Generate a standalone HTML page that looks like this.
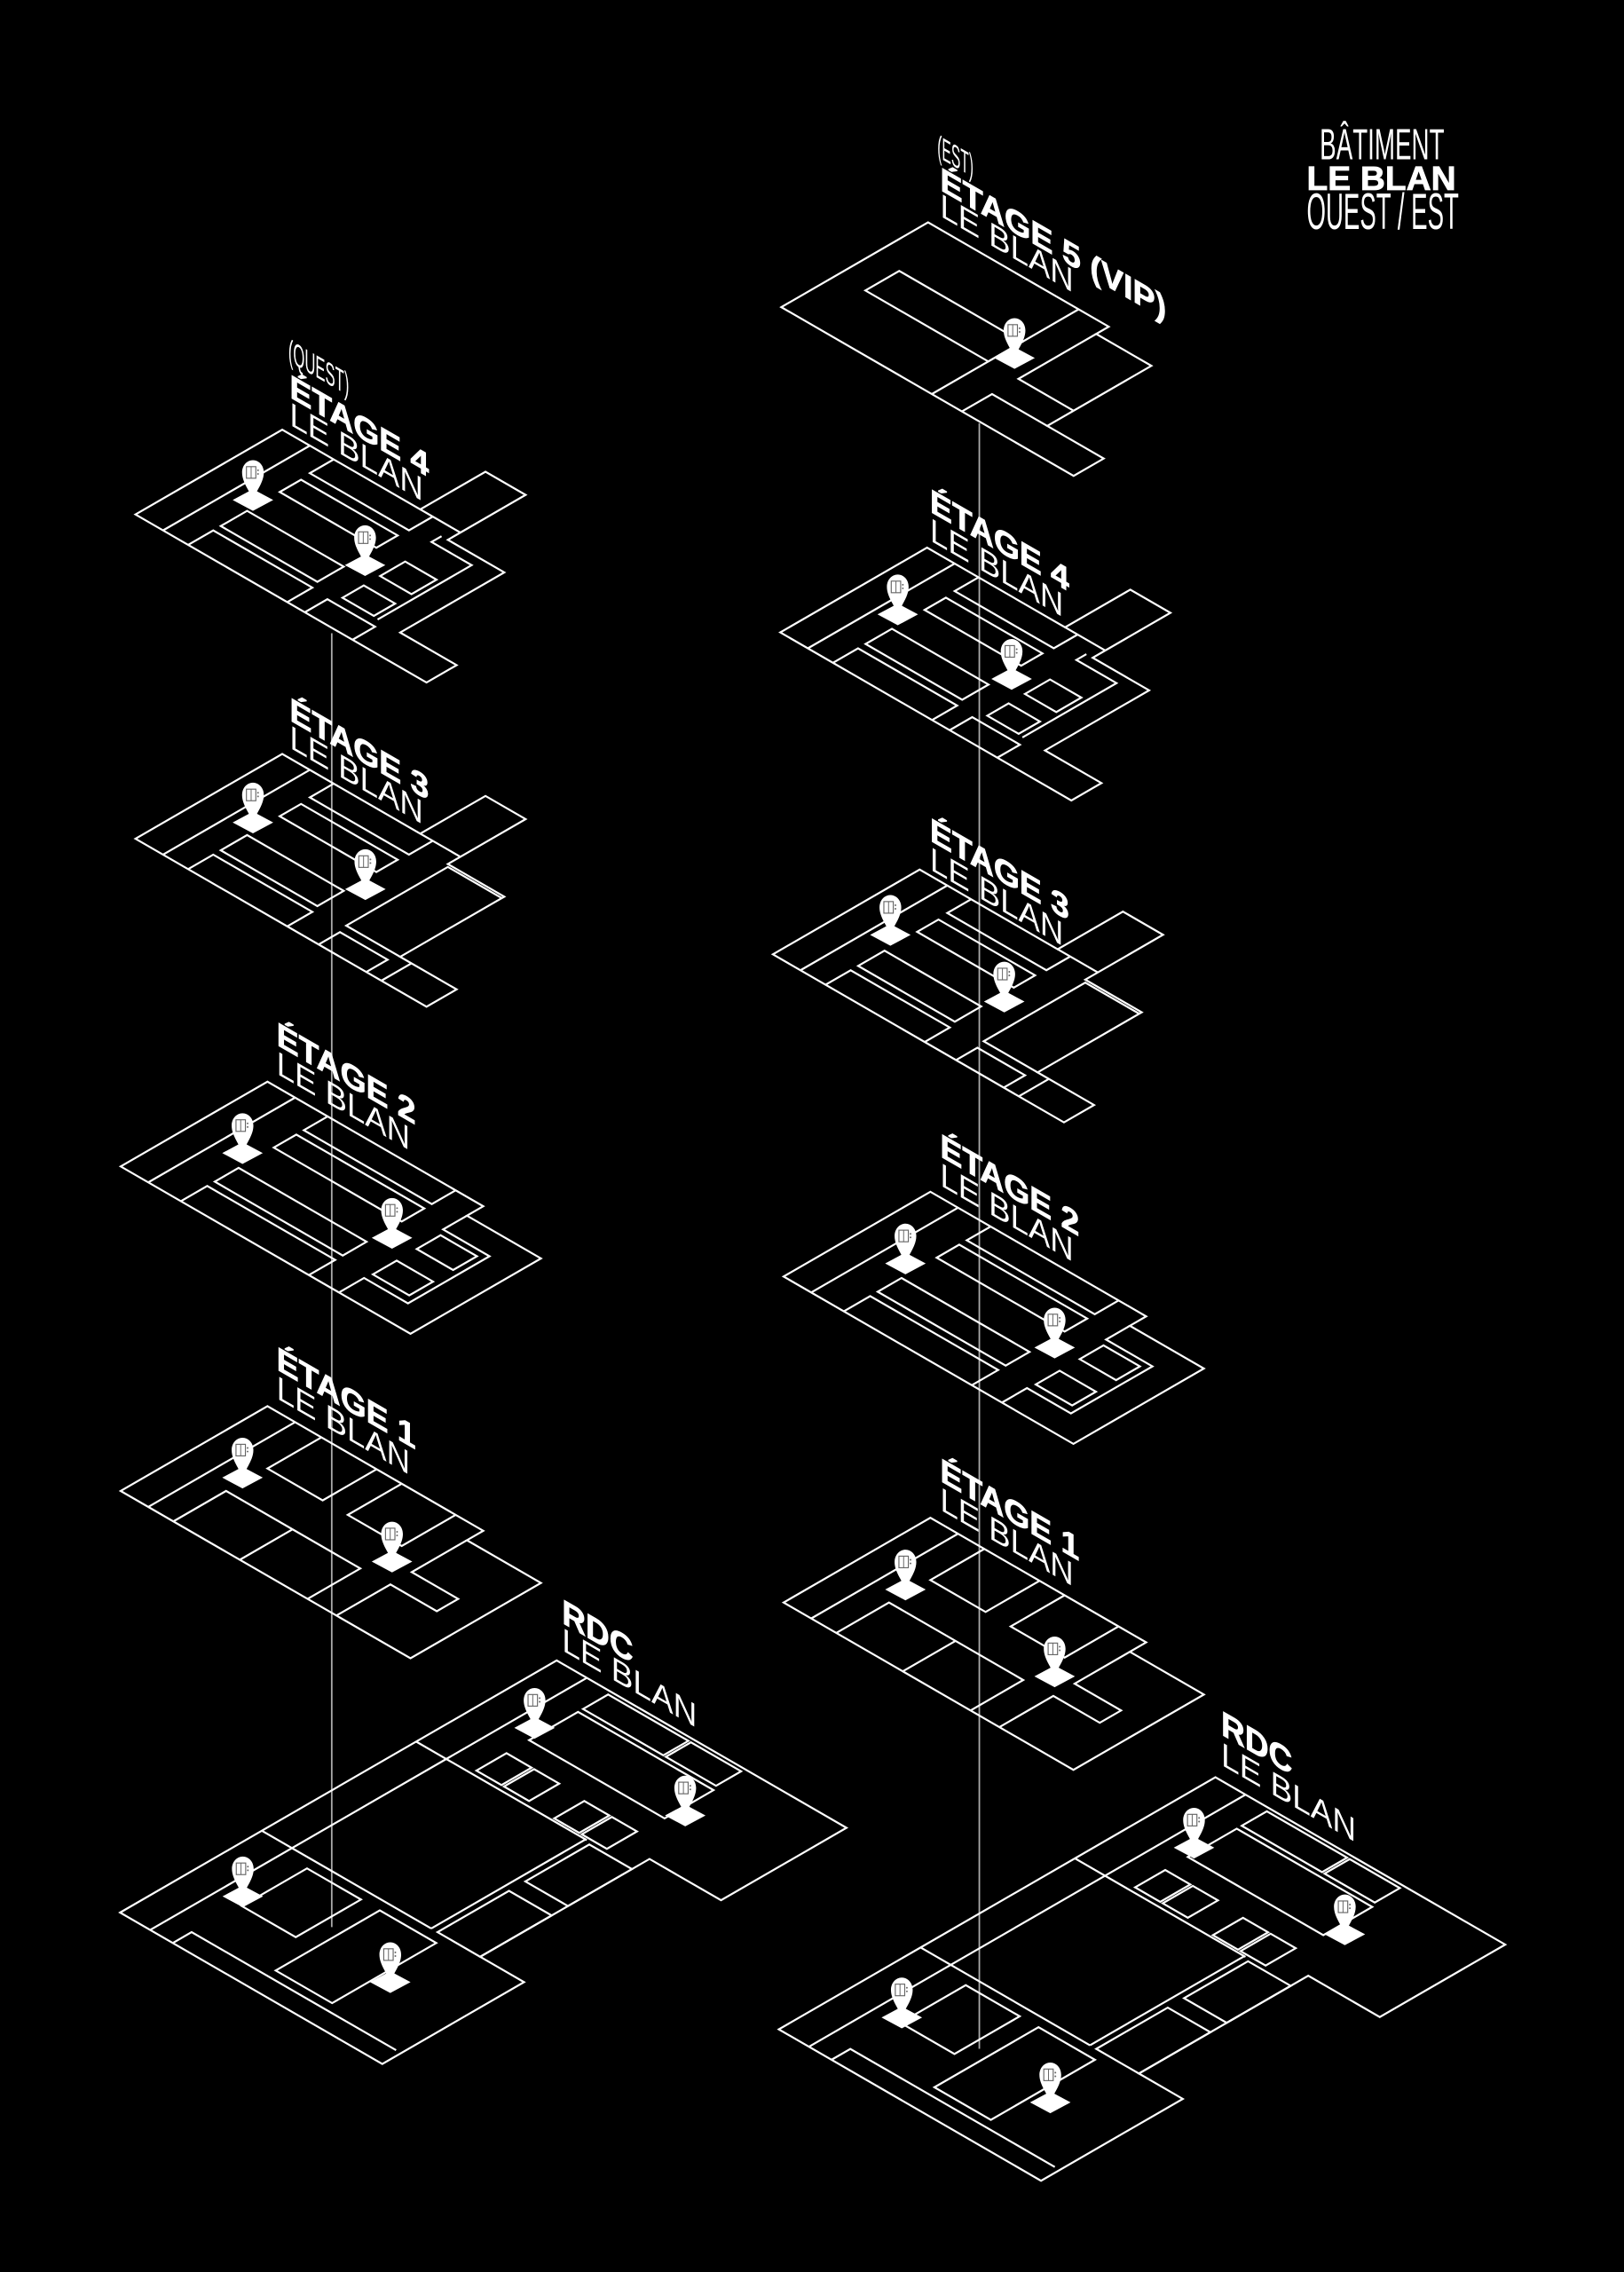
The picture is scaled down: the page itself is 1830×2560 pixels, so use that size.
<!DOCTYPE html>
<html><head><meta charset="utf-8"><style>
html,body{margin:0;padding:0;background:#000;}
svg{display:block;}
.fl polygon,.fl polyline{fill:none;stroke:#fff;stroke-width:2.2;vector-effect:non-scaling-stroke;stroke-linejoin:miter;}
text{fill:#fff;font-family:"Liberation Sans",sans-serif;}
.b{font-weight:900;stroke:#fff;stroke-width:0.5;}
</style></head><body>
<svg width="1830" height="2560" viewBox="0 0 1121 1568" xmlns="http://www.w3.org/2000/svg">
<rect width="1121" height="1568" fill="#000"/>
<defs>
<g id="f4" class="fl" transform="matrix(0.866 0.5 0.866 -0.5 0 0)">
 <polygon points="0,0 0,117 110,117 110,169 142,169 142,107 187,107 187,24 232,24 232,0"/>
 <polyline points="22,0 22,117"/>
 <polyline points="110,117 142,117"/>
 <polyline points="42,0 42,20 121,20 121,0"/>
 <polygon points="42,26 42,47 119,47 119,26"/>
 <polygon points="42,73 42,90 119,90 119,73"/>
 <polyline points="41,117 41,98 120,98 120,117"/>
 <polygon points="140,55 140,75 165,75 165,55"/>
 <polygon points="140,25 140,42 165,42 165,25"/>
 <polyline points="135,0 135,18 173,18 173,0"/>
 <polyline points="137,107 137,99 169,99 169,24"/>
</g>
<g id="f3" class="fl" transform="matrix(0.866 0.5 0.866 -0.5 0 0)">
 <polygon points="0,0 0,117 110,117 110,169 142,169 142,107 187,107 187,24 232,24 232,0"/>
 <polyline points="22,0 22,117"/>
 <polyline points="110,117 142,117"/>
 <polyline points="42,0 42,20 121,20 121,0"/>
 <polygon points="42,26 42,47 119,47 119,26"/>
 <polygon points="42,73 42,90 119,90 119,73"/>
 <polyline points="41,117 41,98 120,98 120,117"/>
 <polyline points="187,105 144,105 144,24 187,24"/>
 <polyline points="146,0 146,17 184,17 184,0"/>
 <polyline points="196,0 196,24"/>
</g>
<g id="f2" class="fl" transform="matrix(0.866 0.5 0.866 -0.5 0 0)">
 <polygon points="0,0 0,117 172,117 172,104 231,104 231,0"/>
 <polyline points="22,0 22,117"/>
 <polyline points="48,0 48,21 150,21 150,0"/>
 <polygon points="48,27 48,46 150,46 150,27"/>
 <polygon points="48,74 48,92 150,92 150,74"/>
 <polyline points="48,117 48,98 150,98 150,117"/>
 <polyline points="172,104 172,85 209,85 209,20 174,20 174,0"/>
 <polygon points="175,61 175,80 204,80 204,61"/>
 <polygon points="175,26 175,45 204,45 204,26"/>
</g>
<g id="f1" class="fl" transform="matrix(0.866 0.5 0.866 -0.5 0 0)">
 <polygon points="0,0 0,117 172,117 172,104 231,104 231,0"/>
 <polyline points="22,0 22,117"/>
 <polyline points="42,0 42,42 149,42 149,0"/>
 <polyline points="95,0 95,42"/>
 <polyline points="43,117 43,74 87,74 87,117"/>
 <polyline points="107,117 107,74 150,74 150,117"/>
 <polyline points="172,0 172,43 209,43 209,60 172,60 172,104"/>
</g>
<g id="f5" class="fl" transform="matrix(0.866 0.5 0.866 -0.5 0 0)">
 <polygon points="0,0 0,117 144,117 144,107 188,107 188,24 233,24 233,0"/>
 <polyline points="120,0 120,117"/>
 <polygon points="22,45 22,72 120,72 120,45"/>
 <polyline points="144,0 144,24 188,24"/>
 <polyline points="188,45 144,45 144,107"/>
</g>
<g id="fr" class="fl" transform="matrix(0.866 0.5 0.866 -0.5 0 0)">
 <polygon points="0,0 0,348 231,348 231,248 174,248 174,113 209,113 209,0"/>
 <polyline points="0,113 135,113"/>
 <polyline points="0,236 136,236"/>
 <polyline points="24,0 24,348"/>
 <polyline points="135,113 135,236"/>
 <polygon points="44,53 44,105 87,105 87,53"/>
 <polygon points="102,22 102,105 147,105 147,22"/>
 <polyline points="42,0 42,15 205,15"/>
 <polygon points="44,282 44,321 152,321 152,282"/>
 <polygon points="44,325 44,345 108,345 108,325"/>
 <polygon points="110,325 110,345 150,345 150,325"/>
 <polygon points="44,240 44,264 64,264 64,240"/>
 <polygon points="66,240 66,264 86,264 86,240"/>
 <polygon points="108,238 108,262 128,262 128,238"/>
 <polygon points="130,238 130,262 150,262 150,238"/>
 <polygon points="140,183 140,234 174,234 174,183"/>
 <polygon points="140,113 140,170 174,170 174,113"/>
</g>
<g id="pin">
 <polygon points="-14,0 0,-7.5 14,0 0,7.5" fill="#fff"/>
 <path d="M0,0 C-2,-6 -7.5,-12 -7.5,-19 C-7.5,-24 -4,-27.5 0,-27.5 C4,-27.5 7.5,-24 7.5,-19 C7.5,-12 2,-6 0,0Z" fill="#fff"/>
 <rect x="-4.5" y="-23" width="6.5" height="8" fill="none" stroke="#666" stroke-width="0.7"/>
 <line x1="-1.25" y1="-23" x2="-1.25" y2="-15" stroke="#666" stroke-width="0.6"/>
 <circle cx="3.5" cy="-20.5" r="0.6" fill="#666"/><circle cx="3.5" cy="-18" r="0.6" fill="#666"/>
</g>
</defs>

<line x1="229" y1="437" x2="229" y2="1330" stroke="#aaa" stroke-width="1.1"/>
<line x1="676" y1="292" x2="676" y2="1414" stroke="#aaa" stroke-width="1.1"/>

<use href="#f4" transform="translate(93.5,355)"/>
<use href="#f3" transform="translate(93.5,578.8)"/>
<use href="#f2" transform="translate(83.3,805)"/>
<use href="#f1" transform="translate(83.3,1029)"/>
<use href="#fr" transform="translate(82.9,1320)"/>
<use href="#f5" transform="translate(539.3,211.9)"/>
<use href="#f4" transform="translate(538.6,436.4)"/>
<use href="#f3" transform="translate(533.5,658.6)"/>
<use href="#f2" transform="translate(540.9,881)"/>
<use href="#f1" transform="translate(540.9,1106)"/>
<use href="#fr" transform="translate(537.6,1400.6)"/>

<use href="#pin" x="174.6" y="345"/><use href="#pin" x="252" y="390"/>
<use href="#pin" x="174.6" y="567.6"/><use href="#pin" x="252.2" y="613.6"/>
<use href="#pin" x="167.4" y="795.8"/><use href="#pin" x="270.6" y="854.3"/>
<use href="#pin" x="167.4" y="1019.8"/><use href="#pin" x="270.6" y="1077.7"/>
<use href="#pin" x="369" y="1192.5"/><use href="#pin" x="473" y="1253"/>
<use href="#pin" x="167.6" y="1308.8"/><use href="#pin" x="269.4" y="1368"/>
<use href="#pin" x="700.3" y="247"/>
<use href="#pin" x="619.7" y="424"/><use href="#pin" x="698.3" y="468.5"/>
<use href="#pin" x="614.6" y="645.2"/><use href="#pin" x="693.2" y="691.2"/>
<use href="#pin" x="625" y="872"/><use href="#pin" x="728" y="930"/>
<use href="#pin" x="625" y="1097"/><use href="#pin" x="728" y="1157"/>
<use href="#pin" x="824.2" y="1275.2"/><use href="#pin" x="928.3" y="1335"/>
<use href="#pin" x="622.5" y="1392.4"/><use href="#pin" x="725" y="1451"/>

<g transform="translate(199,249) skewY(30)"><text font-size="22" textLength="42" lengthAdjust="spacingAndGlyphs">(QUEST)</text></g>
<g transform="translate(200,274) skewY(30)"><text class="b" font-size="23" textLength="96" lengthAdjust="spacingAndGlyphs">ÉTAGE 4</text></g>
<g transform="translate(200,293) skewY(30)"><text font-size="23" textLength="92" lengthAdjust="spacingAndGlyphs">LE BLAN</text></g>

<g transform="translate(200,497) skewY(30)"><text class="b" font-size="23" textLength="96" lengthAdjust="spacingAndGlyphs">ÉTAGE 3</text></g>
<g transform="translate(200,516) skewY(30)"><text font-size="23" textLength="92" lengthAdjust="spacingAndGlyphs">LE BLAN</text></g>

<g transform="translate(191,721) skewY(30)"><text class="b" font-size="23" textLength="96" lengthAdjust="spacingAndGlyphs">ÉTAGE 2</text></g>
<g transform="translate(191,741) skewY(30)"><text font-size="23" textLength="92" lengthAdjust="spacingAndGlyphs">LE BLAN</text></g>

<g transform="translate(191,945) skewY(30)"><text class="b" font-size="23" textLength="96" lengthAdjust="spacingAndGlyphs">ÉTAGE 1</text></g>
<g transform="translate(191,965) skewY(30)"><text font-size="23" textLength="92" lengthAdjust="spacingAndGlyphs">LE BLAN</text></g>

<g transform="translate(388,1120) skewY(30)"><text class="b" font-size="24" textLength="49" lengthAdjust="spacingAndGlyphs">RDC</text></g>
<g transform="translate(388,1139) skewY(30)"><text font-size="23" textLength="93" lengthAdjust="spacingAndGlyphs">LE BLAN</text></g>

<g transform="translate(647,108) skewY(30)"><text font-size="22" textLength="25" lengthAdjust="spacingAndGlyphs">(EST)</text></g>
<g transform="translate(649,131) skewY(30)"><text class="b" font-size="23" textLength="156" lengthAdjust="spacingAndGlyphs">ÉTAGE 5 (VIP)</text></g>
<g transform="translate(649,149) skewY(30)"><text font-size="23" textLength="92" lengthAdjust="spacingAndGlyphs">LE BLAN</text></g>

<g transform="translate(642,353) skewY(30)"><text class="b" font-size="23" textLength="96" lengthAdjust="spacingAndGlyphs">ÉTAGE 4</text></g>
<g transform="translate(642,373) skewY(30)"><text font-size="23" textLength="92" lengthAdjust="spacingAndGlyphs">LE BLAN</text></g>

<g transform="translate(642,580) skewY(30)"><text class="b" font-size="23" textLength="96" lengthAdjust="spacingAndGlyphs">ÉTAGE 3</text></g>
<g transform="translate(642,600) skewY(30)"><text font-size="23" textLength="92" lengthAdjust="spacingAndGlyphs">LE BLAN</text></g>

<g transform="translate(649,798) skewY(30)"><text class="b" font-size="23" textLength="96" lengthAdjust="spacingAndGlyphs">ÉTAGE 2</text></g>
<g transform="translate(649,818) skewY(30)"><text font-size="23" textLength="92" lengthAdjust="spacingAndGlyphs">LE BLAN</text></g>

<g transform="translate(649,1022) skewY(30)"><text class="b" font-size="23" textLength="96" lengthAdjust="spacingAndGlyphs">ÉTAGE 1</text></g>
<g transform="translate(649,1042) skewY(30)"><text font-size="23" textLength="92" lengthAdjust="spacingAndGlyphs">LE BLAN</text></g>

<g transform="translate(843,1197) skewY(30)"><text class="b" font-size="24" textLength="49" lengthAdjust="spacingAndGlyphs">RDC</text></g>
<g transform="translate(843,1218) skewY(30)"><text font-size="23" textLength="93" lengthAdjust="spacingAndGlyphs">LE BLAN</text></g>

<text x="911" y="110" font-size="30" textLength="86" lengthAdjust="spacingAndGlyphs">BÂTIMENT</text>
<text x="902" y="131" class="b" font-size="23" textLength="103" lengthAdjust="spacingAndGlyphs">LE BLAN</text>
<text x="902" y="158" font-size="35" textLength="105" lengthAdjust="spacingAndGlyphs">OUEST / EST</text>
</svg>
</body></html>
